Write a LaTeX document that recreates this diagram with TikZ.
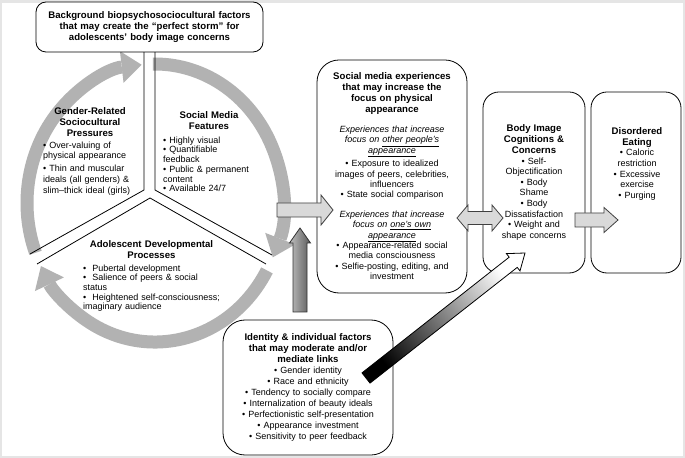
\documentclass[tikz,border=0pt]{standalone}
\usepackage{fontspec}
\setmainfont{Liberation Sans}
\usetikzlibrary{arrows.meta,calc}

\newcommand{\ttlfont}{\fontsize{9.6bp}{11bp}\selectfont\bfseries}
\newcommand{\txtfont}{\fontsize{9bp}{10.6bp}\selectfont}

% block arrow: style, from, to, half shaft, half head, head length
\newcommand{\blockarrow}[6]{%
  \coordinate (ba-h) at ($(#3)!#6!(#2)$);
  \path[#1] ($(#2)!#4!90:(#3)$) -- ($(ba-h)!#4!-90:(#2)$) -- ($(ba-h)!#5!-90:(#2)$) -- (#3)
    -- ($(ba-h)!#5!90:(#2)$) -- ($(ba-h)!#4!90:(#2)$) -- ($(#2)!#4!-90:(#3)$) -- cycle;}
% double block arrow: style, end, end, half shaft, half head, head length
\newcommand{\dblarrow}[6]{%
  \coordinate (da-a) at ($(#2)!#6!(#3)$);
  \coordinate (da-b) at ($(#3)!#6!(#2)$);
  \path[#1] (#2) -- ($(da-a)!#5!90:(#3)$) -- ($(da-a)!#4!90:(#3)$) -- ($(da-b)!#4!-90:(#2)$)
    -- ($(da-b)!#5!-90:(#2)$) -- (#3) -- ($(da-b)!#5!90:(#2)$) -- ($(da-b)!#4!90:(#2)$)
    -- ($(da-a)!#4!-90:(#3)$) -- ($(da-a)!#5!-90:(#3)$) -- cycle;}

\tikzset{
  frame/.style={draw=black, line width=0.8bp, fill=white},
  ttl/.style={font=\ttlfont, align=center, inner sep=0pt},
  txt/.style={font=\txtfont, inner sep=0pt},
  ringarc/.style={draw=black!30, line width=13bp, -{Triangle[width=32bp,length=20bp,line width=0bp]}},
  split/.style={line width=0.8bp},
  lightarrow/.style={draw=black!75, fill=black!15, line width=0.8bp},
  darkarrow/.style={draw=black!80, left color=black!25, right color=black!65, line width=0.8bp},
  fadearrow/.style={draw=black, bottom color=black, top color=white, shading angle=-52, line width=0.8bp},
}

\begin{document}
\begin{tikzpicture}[x=1bp,y=1bp,yscale=-1]
\useasboundingbox (0,0) rectangle (685,458);
\fill[black!10] (0,0) rectangle (685,458);
\fill[white] (1.5,3) rectangle (683,455.5);

%Shape: Ring
\coordinate (hub) at (155,203);
\draw[ringarc] (hub) ++(159:128 and 139) arc[start angle=159, end angle=264, x radius=128, y radius=139];
\draw[ringarc] (hub) ++(269:128 and 139) arc[start angle=269, end angle=383, x radius=128, y radius=139];
\draw[ringarc] (hub) ++(29:128 and 139) arc[start angle=29, end angle=153, x radius=128, y radius=139];

%Straight Lines: sector splits
\draw[split] (144,52) -- (144,190) -- (30,254);
\draw[split] (155,52) -- (155,190) -- (272,255);
\draw[split] (37,264) -- (150,198) -- (266,264);

%Shape: top box
\node[frame, rounded corners=10bp, minimum width=227bp, minimum height=50bp, text width=221bp,
  inner sep=3bp, align=center, font=\ttlfont] (storm) at (149.5,27)
  {Background biopsychosociocultural factors\\that may create the “perfect storm” for\\adolescents' body image concerns};

% Text Node
\node[ttl, anchor=north, text width=110bp] (gendttl) at (90,107.5) {Gender-Related\\Sociocultural\\Pressures};
% Text Node
\node[txt, anchor=north west, text width=100bp, align=left] (gendlist) at (43,141.5)
  {• Over-valuing of\\physical appearance\\[2.5bp]• Thin and muscular\\ideals (all genders) \&\\slim--thick ideal (girls)};
% Text Node
\node[ttl, anchor=north, text width=100bp] (mediattl) at (209,111.5) {Social Media\\Features};
% Text Node
\node[txt, anchor=north west, text width=95bp, align=left, font=\fontsize{9bp}{9.7bp}\selectfont] (medialist) at (163,136.5)
  {• Highly visual\\• Quantifiable\\feedback\\• Public \& permanent\\content\\• Available 24/7};
% Text Node
\node[ttl, anchor=north, text width=150bp] (devttl) at (151.5,240.5) {Adolescent Developmental\\Processes};
% Text Node
\node[txt, anchor=north west, text width=150bp, align=left, font=\fontsize{9bp}{9.6bp}\selectfont] (devlist) at (83,264.5)
  {•\ \ Pubertal development\\•\ \ Salience of peers \& social\\status\\•\ \ Heightened self-consciousness;\\imaginary audience};

%Shape: social media experiences box
\node[frame, rounded corners=22bp, minimum width=150bp, minimum height=233bp] (exper) at (392,176.5) {};
% Text Node
\node[txt, anchor=north, text width=150bp, align=center, font=\fontsize{9bp}{10.4bp}\selectfont] (expertxt) at (392,72.5)
  {{\ttlfont Social media experiences\\that may increase the\\focus on physical\\appearance}\\[10bp]
   {\itshape Experiences that increase\\focus on \underline{other people's}\\\underline{appearance}}\\[3bp]
   • Exposure to idealized\\images of peers, celebrities,\\influencers\\• State social comparison\\[9bp]
   {\itshape Experiences that increase\\focus on \underline{one's own}\\\underline{appearance}}\\
   • Appearance-related social\\media consciousness\\• Selfie-posting, editing, and\\investment};

%Shape: body image box
\node[frame, rounded corners=16bp, minimum width=102bp, minimum height=181bp, text width=96bp,
  inner sep=3bp, align=center, font=\txtfont] (bodyimg) at (534,182.5)
  {{\ttlfont Body Image\\Cognitions \&\\Concerns}\\• Self-\\Objectification\\• Body\\Shame\\• Body\\Dissatisfaction\\• Weight and\\shape concerns};

%Shape: disordered eating box
\node[frame, rounded corners=16bp, minimum width=90bp, minimum height=181bp] (eating) at (636,182.5) {};
% Text Node
\node[txt, anchor=north, text width=86bp, align=center] (eatingtxt) at (637,127.5)
  {{\ttlfont Disordered\\Eating}\\• Caloric\\restriction\\• Excessive\\exercise\\• Purging};

%Shape: identity box
\node[frame, rounded corners=22bp, minimum width=170bp, minimum height=135bp, text width=164bp,
  inner sep=3bp, align=center, font=\fontsize{9bp}{11bp}\selectfont] (ident) at (308,387.5)
  {{\ttlfont Identity \& individual factors\\that may moderate and/or\\mediate links}\\• Gender identity\\• Race and ethnicity\\
   • Tendency to socially compare\\• Internalization of beauty ideals\\• Perfectionistic self-presentation\\
   • Appearance investment\\• Sensitivity to peer feedback};

%Block arrows
\coordinate (ringtail) at (277,210);
\coordinate (ringtip) at (333,210);
\blockarrow{lightarrow}{ringtail}{ringtip}{7bp}{15bp}{12bp}
\coordinate (pairl) at (457,218);
\coordinate (pairr) at (503,218);
\dblarrow{lightarrow}{pairl}{pairr}{6.5bp}{13bp}{11bp}
\coordinate (eattail) at (575,220);
\coordinate (eattip) at (618,220);
\blockarrow{lightarrow}{eattail}{eattip}{7bp}{12.5bp}{14bp}
\coordinate (uptail) at (300,312);
\coordinate (uptip) at (300,228);
\blockarrow{darkarrow}{uptail}{uptip}{7bp}{10.5bp}{15bp}
\coordinate (diagtail) at (366,378);
\coordinate (diagtip) at (525,253);
\blockarrow{fadearrow}{diagtail}{diagtip}{6.5bp}{11bp}{15bp}

\end{tikzpicture}
\end{document}
